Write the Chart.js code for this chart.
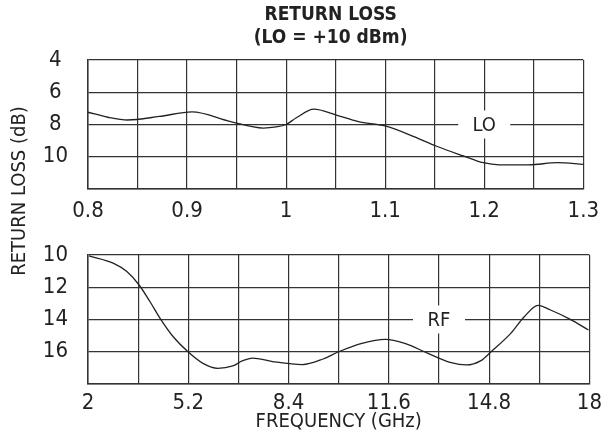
<!DOCTYPE html>
<html><head><meta charset="utf-8">
<script src="https://cdn.jsdelivr.net/npm/chart.js@4/dist/chart.umd.min.js"></script>
<style>
html,body{margin:0;padding:0;background:#fff;}
#wrap{position:relative;width:608px;height:442px;background:#fff;}
canvas{position:absolute;left:0;top:0;}
</style></head><body>
<div id="wrap"><canvas id="c1" width="608" height="442"></canvas><canvas id="c2" width="608" height="442"></canvas></div>
<script>
// ---- data ----
const loFreq = [0.8, 0.82, 0.84, 0.872, 0.905, 0.944, 0.977, 0.99, 1.0, 1.01, 1.028, 1.05, 1.073, 1.1, 1.129, 1.152, 1.179, 1.199, 1.215, 1.245, 1.274, 1.3];
const loLoss = [7.24, 7.55, 7.72, 7.5, 7.22, 7.82, 8.22, 8.15, 8.0, 7.6, 7.05, 7.4, 7.82, 8.09, 8.75, 9.35, 9.95, 10.37, 10.5, 10.5, 10.37, 10.47];
const rfFreq = [2.03, 2.82, 3.24, 3.63, 3.98, 4.3, 4.72, 5.19, 5.67, 6.14, 6.62, 6.92, 7.25, 7.89, 8.84, 9.5, 10.0, 10.74, 11.48, 12.11, 12.85, 13.59, 14.07, 14.54, 14.86, 15.49, 15.92, 16.36, 16.76, 17.39, 17.97];
const rfLoss = [10.05, 10.52, 11.03, 11.86, 12.9, 13.93, 15.07, 16.0, 16.72, 17.03, 16.88, 16.57, 16.39, 16.61, 16.8, 16.45, 16.0, 15.48, 15.23, 15.48, 16.1, 16.68, 16.82, 16.55, 16.0, 14.86, 13.83, 13.12, 13.41, 13.99, 14.65];

const loXGrid = [0.8, 0.85, 0.9, 0.95, 1.0, 1.05, 1.1, 1.15, 1.2, 1.25, 1.3];
const loXLabels = ['0.8', '', '0.9', '', '1', '', '1.1', '', '1.2', '', '1.3'];
const rfXGrid = [2, 3.6, 5.2, 6.8, 8.4, 10, 11.6, 13.2, 14.8, 16.4, 18];
const rfXLabels = ['2', '', '5.2', '', '8.4', '', '11.6', '', '14.8', '', '18'];
const loYGrid = [4, 6, 8, 10, 12];
const loYLabels = ['4', '6', '8', '10', ''];
const rfYGrid = [10, 12, 14, 16, 18];
const rfYLabels = ['10', '12', '14', '16', ''];

const titleLines = ['RETURN LOSS', '(LO = +10 dBm)'];
const yTitle = 'RETURN LOSS (dB)';
const xTitle = 'FREQUENCY (GHz)';
const loTag = {text: 'LO', x: 1.2, y: 8};
const rfTag = {text: 'RF', x: 13.2, y: 14};

// ---- style ----
const FONT = "'Liberation Sans Narrow', 'Arial Narrow', 'DejaVu Sans Condensed', sans-serif";
Chart.defaults.font.family = FONT;
Chart.defaults.color = '#222';
const INK = '#222';
const GRID = '#333';

function tagPlugin(tag) {
  return {
    id: 'tag',
    afterDatasetsDraw(chart) {
      const ctx = chart.ctx;
      const px = chart.scales.x.getPixelForValue(tag.x);
      const py = chart.scales.y.getPixelForValue(tag.y);
      ctx.save();
      ctx.fillStyle = '#fff';
      ctx.fillRect(px - 26, py - 14, 52, 28);
      ctx.fillStyle = INK;
      ctx.font = '20px ' + FONT;
      ctx.textAlign = 'center';
      ctx.textBaseline = 'middle';
      ctx.fillText(tag.text, px, py + 1);
      ctx.restore();
    }
  };
}

const textPlugin = {
  id: 'texts',
  afterDraw(chart) {
    const ctx = chart.ctx;
    const cx = (chart.chartArea.left + chart.chartArea.right) / 2 - 5;
    ctx.save();
    ctx.fillStyle = INK;
    ctx.textAlign = 'center';
    ctx.textBaseline = 'middle';
    ctx.font = 'bold 19px ' + FONT;
    ctx.fillText(titleLines[0], cx, 15);
    ctx.fillText(titleLines[1], cx, 38);
    ctx.translate(20, 191);
    ctx.rotate(-Math.PI / 2);
    ctx.font = '20px ' + FONT;
    ctx.fillText(yTitle, 0, 0);
    ctx.restore();
  }
};

function panel(canvas, freq, loss, xGrid, xLabels, yGrid, yLabels, padTop, padBottom, xAxisH, xPad, showXTitle, plugins) {
  return new Chart(canvas, {
    type: 'line',
    data: {
      datasets: [{
        data: freq.map((f, i) => ({x: f, y: loss[i]})),
        borderColor: INK,
        borderWidth: 1.3,
        pointRadius: 0,
        fill: false,
        cubicInterpolationMode: 'monotone'
      }]
    },
    options: {
      responsive: false,
      animation: false,
      events: [],
      layout: {padding: {top: padTop, bottom: padBottom, left: 0, right: 15.5}},
      plugins: {legend: {display: false}, tooltip: {enabled: false}, title: {display: false}},
      scales: {
        x: {
          type: 'linear',
          min: xGrid[0], max: xGrid[xGrid.length - 1],
          afterBuildTicks(s) { s.ticks = xGrid.map(v => ({value: v})); },
          afterFit(s) { s.height = xAxisH; },
          ticks: {
            autoSkip: false, maxRotation: 0, minRotation: 0, padding: xPad,
            color: INK, font: {size: 22},
            callback(v, i) { return xLabels[i]; }
          },
          grid: {color: GRID, lineWidth: 1.2, drawTicks: false},
          border: {color: GRID, width: 1.5},
          title: showXTitle ? {display: true, text: xTitle, color: INK, font: {size: 20}, padding: {top: 0, bottom: 8}} : {display: false}
        },
        y: {
          type: 'linear',
          reverse: true,
          min: yGrid[0], max: yGrid[yGrid.length - 1],
          afterBuildTicks(s) { s.ticks = yGrid.map(v => ({value: v})); },
          afterFit(s) { s.width = 88; },
          ticks: {
            padding: 20, crossAlign: 'center', color: INK, font: {size: 22},
            callback(v, i) { return yLabels[i]; }
          },
          grid: {color: GRID, lineWidth: 1.2, drawTicks: false},
          border: {color: GRID, width: 1.5}
        }
      }
    },
    plugins: plugins
  });
}

panel(document.getElementById('c1'), loFreq, loLoss, loXGrid, loXLabels, loYGrid, loYLabels,
      60, 442 - 189 - 40, 40, 9, false, [tagPlugin(loTag), textPlugin]);
panel(document.getElementById('c2'), rfFreq, rfLoss, rfXGrid, rfXLabels, rfYGrid, rfYLabels,
      255, 0, 58, 6, true, [tagPlugin(rfTag)]);
</script>
</body></html>
